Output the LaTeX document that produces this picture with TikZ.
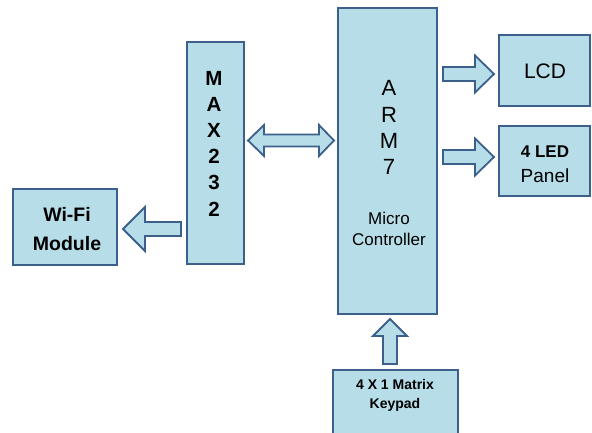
\documentclass[tikz,border=0pt]{standalone}
\usepackage{fontspec}
\setmainfont{Liberation Sans}
\definecolor{boxfill}{RGB}{183,222,232}
\definecolor{boxline}{RGB}{60,96,140}
\begin{document}
\begin{tikzpicture}[x=1pt,y=-1pt,
  box/.style={draw=boxline, fill=boxfill, line width=1.8pt, inner sep=0pt, rectangle},
  barrow/.style={draw=boxline, fill=boxfill, line width=1.8pt, line join=miter},
  lbl/.style={anchor=base, inner sep=0pt, text=black},
  wifitxt/.style={lbl, font=\bfseries\fontsize{19.5}{23}\selectfont},
  maxtxt/.style={lbl, font=\bfseries\fontsize{20.5}{24}\selectfont},
  armtxt/.style={lbl, font=\fontsize{22}{26}\selectfont},
  mctxt/.style={lbl, font=\fontsize{17}{20}\selectfont},
  lcdtxt/.style={lbl, font=\fontsize{21}{25}\selectfont},
  ledb/.style={lbl, font=\bfseries\fontsize{17}{20}\selectfont},
  ledr/.style={lbl, font=\fontsize{19}{23}\selectfont},
  keytxt/.style={lbl, font=\bfseries\fontsize{14}{16}\selectfont}]
\clip (0,0) rectangle (592,432);
\fill[white] (0,0) rectangle (592,432);

% boxes
\node[box, minimum width=104pt, minimum height=76pt] (wifi) at (65,227) {};
\node[box, minimum width=57pt, minimum height=222pt] (max) at (215.5,153) {};
\node[box, minimum width=99pt, minimum height=306pt] (arm) at (387.5,161) {};
\node[box, minimum width=91pt, minimum height=71pt] (lcd) at (544.5,70.5) {};
\node[box, minimum width=91pt, minimum height=70pt] (led) at (544.5,161) {};
\node[box, minimum width=125pt, minimum height=65pt] (key) at (395.5,402.5) {};

% block arrows
\draw[barrow] (181,222) -- (145,222) -- (145,207) -- (123,229) -- (145,251) -- (145,236) -- (181,236) -- cycle;
\draw[barrow] (248,140.5) -- (264,125) -- (264,134.5) -- (319,134.5) -- (319,125) -- (334,140.5) -- (319,156) -- (319,146.5) -- (264,146.5) -- (264,156) -- cycle;
\draw[barrow] (443,67) -- (475,67) -- (475,55.5) -- (494,74) -- (475,92.5) -- (475,81) -- (443,81) -- cycle;
\draw[barrow] (443,150) -- (475,150) -- (475,138.5) -- (494,157) -- (475,175.5) -- (475,164) -- (443,164) -- cycle;
\draw[barrow] (383,364) -- (383,336) -- (373,336) -- (390,319) -- (407,336) -- (397,336) -- (397,364) -- cycle;

% texts
\node[wifitxt] (t1) at (67,221) {Wi-Fi};
\node[wifitxt] (t2) at (67,250) {Module};

\node[maxtxt] (m1) at (214,85) {M};
\node[maxtxt] (m2) at (214,111.2) {A};
\node[maxtxt] (m3) at (214,137.4) {X};
\node[maxtxt] (m4) at (214,163.6) {2};
\node[maxtxt] (m5) at (214,189.8) {3};
\node[maxtxt] (m6) at (214,216) {2};

\node[armtxt] (a1) at (389,95) {A};
\node[armtxt] (a2) at (389,122) {R};
\node[armtxt] (a3) at (389,148) {M};
\node[armtxt] (a4) at (389,174) {7};
\node[mctxt] (a5) at (389,224) {Micro};
\node[mctxt] (a6) at (389,245) {Controller};

\node[lcdtxt] (l1) at (545,78) {LCD};
\node[ledb] (l2) at (545,157) {4 LED};
\node[ledr] (l3) at (545,182) {Panel};

\node[keytxt] (k1) at (395,389) {4 X 1 Matrix};
\node[keytxt] (k2) at (395,408) {Keypad};
\end{tikzpicture}
\end{document}
